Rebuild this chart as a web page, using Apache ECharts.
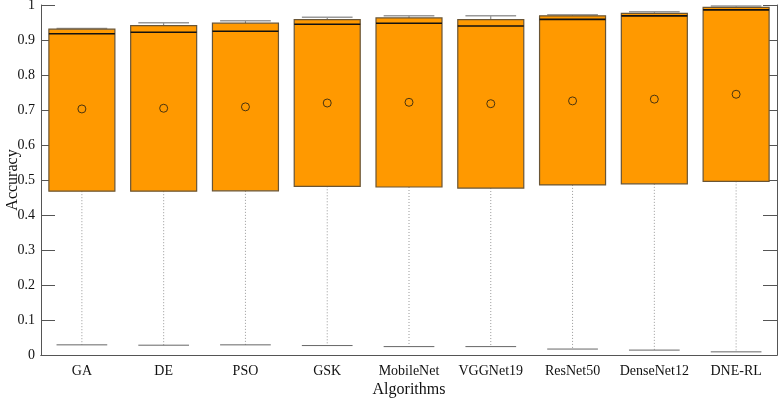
<!DOCTYPE html>
<html>
<head>
<meta charset="utf-8">
<script src="https://cdn.jsdelivr.net/npm/echarts@6/dist/echarts.min.js"></script>
<style>
  html, body { margin: 0; padding: 0; background: #fff; }
  #chart { width: 778px; height: 398px; }
</style>
</head>
<body>
<div id="chart"></div>
<script>
// data
const categories = ["GA", "DE", "PSO", "GSK", "MobileNet", "VGGNet19", "ResNet50", "DenseNet12", "DNE-RL"];
const lowerCap = [0.029, 0.028, 0.029, 0.027, 0.024, 0.024, 0.017, 0.014, 0.009];
const q1 = [0.468, 0.468, 0.469, 0.482, 0.480, 0.477, 0.486, 0.489, 0.496];
const median = [0.918, 0.922, 0.925, 0.945, 0.948, 0.940, 0.959, 0.969, 0.986];
const q3 = [0.931, 0.941, 0.948, 0.958, 0.963, 0.958, 0.969, 0.976, 0.993];
const upperCap = [0.933, 0.949, 0.955, 0.965, 0.969, 0.969, 0.972, 0.981, 0.997];
const mean = [0.703, 0.705, 0.709, 0.720, 0.722, 0.718, 0.726, 0.731, 0.745];

const chart = echarts.init(document.getElementById("chart"));
const font = "Liberation Serif";
const axisColor = "#555";

const boxData = categories.map((c, i) => [i, lowerCap[i], q1[i], median[i], q3[i], upperCap[i], mean[i]]);

function renderBox(params, api) {
  const i = api.value(0);
  const band = api.size([1, 0])[0];
  const boxW = band * 0.807;
  const capW = band * 0.62;
  const cx = api.coord([i, 0])[0];
  const y = (v) => api.coord([i, v])[1];
  const yLow = y(api.value(1));
  const yQ1 = y(api.value(2));
  const yMed = y(api.value(3));
  const yQ3 = y(api.value(4));
  const yUp = y(api.value(5));
  const yMean = y(api.value(6));

  return {
    type: "group",
    children: [
      // lower whisker (dotted)
      {
        type: "line",
        shape: { x1: cx, y1: yQ1, x2: cx, y2: yLow },
        style: { stroke: "#999", lineWidth: 1, lineDash: [1, 2] },
      },
      // lower cap
      {
        type: "line",
        shape: { x1: cx - capW / 2, y1: yLow, x2: cx + capW / 2, y2: yLow },
        style: { stroke: "#666", lineWidth: 1 },
      },
      // upper whisker
      {
        type: "line",
        shape: { x1: cx, y1: yQ3, x2: cx, y2: yUp },
        style: { stroke: "#777", lineWidth: 1 },
      },
      // upper cap
      {
        type: "line",
        shape: { x1: cx - capW / 2, y1: yUp, x2: cx + capW / 2, y2: yUp },
        style: { stroke: "#999", lineWidth: 1.5 },
      },
      // box
      {
        type: "rect",
        shape: { x: cx - boxW / 2, y: yQ3, width: boxW, height: yQ1 - yQ3 },
        style: { fill: "#ff9900", stroke: "#6a5535", lineWidth: 1.2 },
      },
      // median
      {
        type: "line",
        shape: { x1: cx - boxW / 2, y1: yMed, x2: cx + boxW / 2, y2: yMed },
        style: { stroke: "#111", lineWidth: 1.6 },
      },
      // mean marker
      {
        type: "circle",
        shape: { cx: cx, cy: yMean, r: 4 },
        style: { fill: "none", stroke: "#4a3410", lineWidth: 1 },
      },
    ],
  };
}

const options = {
  animation: false,
  grid: { left: 41, right: 1, top: 5, bottom: 43, containLabel: false, outerBoundsMode: "none" },
  xAxis: [
    {
      type: "category",
      data: categories,
      boundaryGap: true,
      name: "Algorithms",
      nameLocation: "middle",
      nameGap: 27,
      nameMoveOverlap: false,
      nameTextStyle: { fontFamily: font, fontSize: 16, color: "#111" },
      axisLine: { lineStyle: { color: axisColor, width: 1 } },
      axisTick: { inside: true, length: 14, interval: 0, alignWithLabel: true, lineStyle: { color: axisColor } },
      axisLabel: { fontFamily: font, fontSize: 14, color: "#111", margin: 9, interval: 0 },
    },
    {
      type: "category",
      data: categories,
      position: "top",
      boundaryGap: true,
      axisLine: { lineStyle: { color: axisColor, width: 1 } },
      axisTick: { inside: true, length: 14, interval: 0, alignWithLabel: true, lineStyle: { color: axisColor } },
      axisLabel: { show: false },
    },
  ],
  yAxis: [
    {
      type: "value",
      min: 0,
      max: 1,
      interval: 0.1,
      name: "Accuracy",
      nameLocation: "middle",
      nameGap: 20,
      nameMoveOverlap: false,
      nameTextStyle: { fontFamily: font, fontSize: 16, color: "#111" },
      axisLine: { show: true, lineStyle: { color: axisColor, width: 1 } },
      axisTick: { show: true, inside: true, length: 14, lineStyle: { color: axisColor } },
      axisLabel: { fontFamily: font, fontSize: 14, color: "#111", margin: 6 },
      splitLine: { show: false },
    },
    {
      type: "value",
      position: "right",
      min: 0,
      max: 1,
      interval: 0.1,
      axisLine: { show: true, lineStyle: { color: axisColor, width: 1 } },
      axisTick: { show: true, inside: true, length: 14, lineStyle: { color: axisColor } },
      axisLabel: { show: false },
      splitLine: { show: false },
    },
  ],
  series: [
    {
      type: "custom",
      xAxisIndex: 0,
      yAxisIndex: 0,
      renderItem: renderBox,
      encode: { x: 0, y: [1, 2, 3, 4, 5, 6] },
      data: boxData,
      z: 3,
    },
  ],
};

chart.setOption(options);
</script>
</body>
</html>
